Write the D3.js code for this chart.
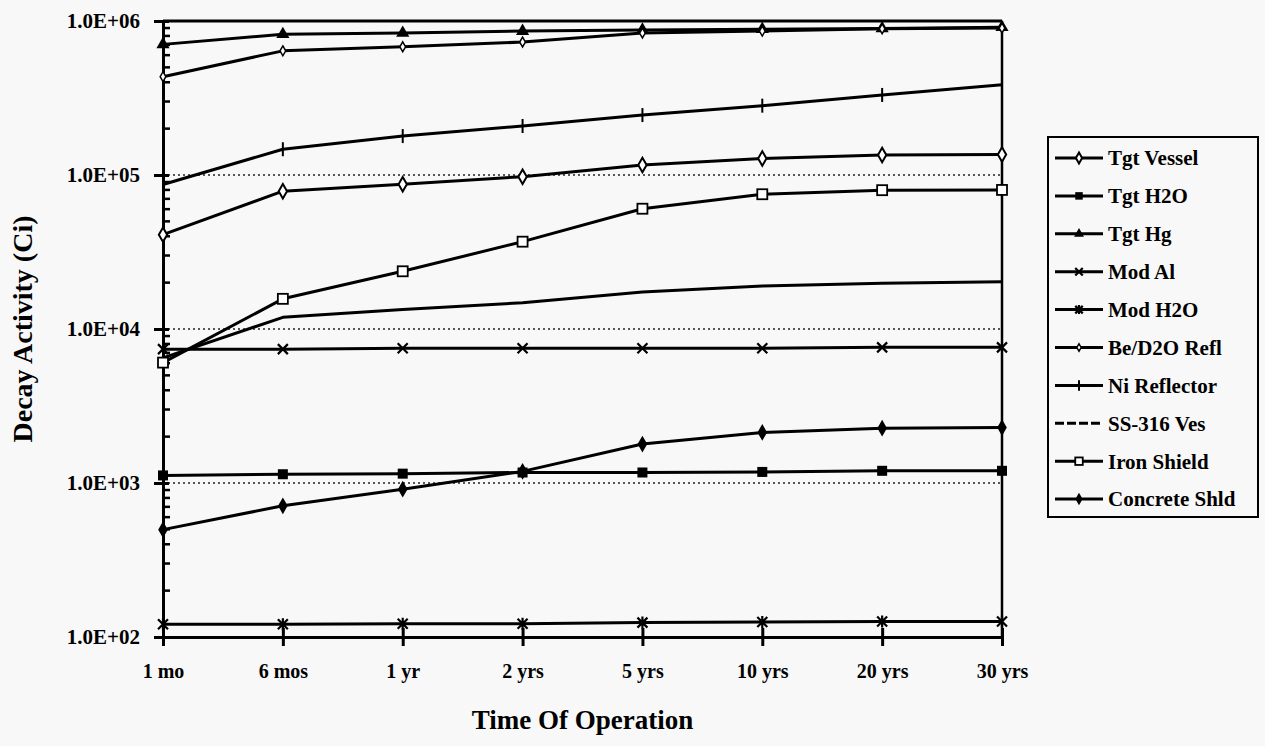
<!DOCTYPE html>
<html>
<head>
<meta charset="utf-8">
<script src="https://cdn.jsdelivr.net/npm/d3@7"></script>
<style>
  body { margin: 0; background: #f8f8f8; }
  svg text { font-family: "Liberation Serif", "Times New Roman", serif; font-weight: bold; }
</style>
</head>
<body>
<svg width="1265" height="746"></svg>
<script>
// categories on the x axis
const times = ["1 mo", "6 mos", "1 yr", "2 yrs", "5 yrs", "10 yrs", "20 yrs", "30 yrs"];

// decay activity (Ci)
const tgtVessel  = [41000, 78500, 87000, 97500, 116000, 128000, 135000, 136000];
const tgtH2O     = [1120, 1140, 1150, 1170, 1170, 1180, 1200, 1200];
const tgtHg      = [705000, 820000, 835000, 860000, 875000, 885000, 895000, 910000];
const modAl      = [7400, 7400, 7500, 7500, 7500, 7500, 7600, 7600];
const modH2O     = [121, 121, 122, 122, 124, 125, 126, 126];
const beD2O      = [435000, 640000, 680000, 730000, 835000, 860000, 890000, 900000];
const niRefl     = [86700, 147000, 179000, 208000, 245000, 282000, 331000, 386000];
const ss316      = [6500, 11900, 13400, 14800, 17400, 19000, 19800, 20300];
const ironShield = [6050, 15700, 23700, 36900, 60400, 75000, 79700, 80000];
const concrete   = [498, 711, 912, 1190, 1790, 2130, 2270, 2290];

const yTicks = [1e2, 1e3, 1e4, 1e5, 1e6];

const series = [
  { name: "Tgt Vessel",    values: tgtVessel,  marker: "diamondOpen" },
  { name: "Tgt H2O",       values: tgtH2O,     marker: "square" },
  { name: "Tgt Hg",        values: tgtHg,      marker: "triangle" },
  { name: "Mod Al",        values: modAl,      marker: "cross" },
  { name: "Mod H2O",       values: modH2O,     marker: "star" },
  { name: "Be/D2O Refl",   values: beD2O,      marker: "smallDiamond" },
  { name: "Ni Reflector",  values: niRefl,     marker: "plus" },
  { name: "SS-316 Ves",    values: ss316,      marker: "none" },
  { name: "Iron Shield",   values: ironShield, marker: "squareOpen" },
  { name: "Concrete Shld", values: concrete,   marker: "diamond" }
];

/*----------- dimensions -----------*/
const plot = { left: 163, right: 1002, top: 21, bottom: 637 };

const x = d3.scalePoint().domain(times).range([plot.left, plot.right]);
const y = d3.scaleLog().domain([1e2, 1e6]).range([plot.bottom, plot.top]);

const svg = d3.select("svg");

// dotted major gridlines (not on the frame)
svg.append("g")
  .selectAll("line")
  .data(yTicks.filter((t) => t > 1e2 && t < 1e6))
  .join("line")
  .attr("x1", plot.left).attr("x2", plot.right)
  .attr("y1", (d) => y(d)).attr("y2", (d) => y(d))
  .attr("stroke", "#222").attr("stroke-width", 1.3)
  .attr("stroke-dasharray", "2,3");

// frame: top and right
svg.append("line")
  .attr("x1", plot.left).attr("x2", plot.right)
  .attr("y1", y(1e6)).attr("y2", y(1e6))
  .attr("stroke", "#000").attr("stroke-width", 3);
svg.append("line")
  .attr("x1", plot.right).attr("x2", plot.right)
  .attr("y1", y(1e6)).attr("y2", y(1e2))
  .attr("stroke", "#000").attr("stroke-width", 2.5);

// y axis: log scale with minor ticks inside
const yAxis = d3.axisLeft(y)
  .tickValues(yTicks)
  .tickFormat((d) => "1.0E+0" + Math.round(Math.log10(d)))
  .tickSizeInner(9).tickSizeOuter(0).tickPadding(14);
const gy = svg.append("g")
  .attr("transform", `translate(${plot.left},0)`)
  .call(yAxis)
  .attr("font-family", null).attr("font-size", null);
gy.select(".domain").attr("stroke-width", 3);
gy.selectAll(".tick line").attr("x2", -9).attr("x1", 6).attr("stroke-width", 3);
gy.selectAll(".tick text").attr("font-size", 21).attr("fill", "#000");

const minor = [];
for (let e = 2; e < 6; e++) for (let m = 2; m <= 9; m++) minor.push(m * Math.pow(10, e));
svg.append("g")
  .selectAll("line")
  .data(minor)
  .join("line")
  .attr("x1", plot.left).attr("x2", plot.left + 7)
  .attr("y1", (d) => y(d)).attr("y2", (d) => y(d))
  .attr("stroke", "#000").attr("stroke-width", 2.5);

// x axis with crossing ticks
const xAxis = d3.axisBottom(x).tickSizeInner(9).tickSizeOuter(0).tickPadding(18);
const gx = svg.append("g")
  .attr("transform", `translate(0,${plot.bottom})`)
  .call(xAxis)
  .attr("font-family", null).attr("font-size", null);
gx.select(".domain").attr("stroke-width", 3);
gx.selectAll(".tick line").attr("y1", -9).attr("y2", 9).attr("stroke-width", 3);
gx.selectAll(".tick text").attr("font-size", 20).attr("fill", "#000");

// axis titles
svg.append("text")
  .attr("x", (plot.left + plot.right) / 2).attr("y", 729)
  .attr("text-anchor", "middle").attr("font-size", 27)
  .text("Time Of Operation");
svg.append("text")
  .attr("transform", `translate(32,${(plot.top + plot.bottom) / 2}) rotate(-90)`)
  .attr("text-anchor", "middle").attr("font-size", 28)
  .text("Decay Activity (Ci)");

/*----------- markers -----------*/
function drawMarker(g, type, scale) {
  const s = scale || 1;
  if (type === "diamondOpen") {
    g.append("path").attr("d", d3.symbol(d3.symbolDiamond, 60 * s * s)).attr("fill", "#fff").attr("stroke", "#000").attr("stroke-width", 2);
  } else if (type === "diamond") {
    g.append("path").attr("d", d3.symbol(d3.symbolDiamond, 80 * s * s)).attr("fill", "#000");
  } else if (type === "square") {
    g.append("rect").attr("x", -5 * s).attr("y", -5 * s).attr("width", 10 * s).attr("height", 10 * s).attr("fill", "#000");
  } else if (type === "squareOpen") {
    g.append("rect").attr("x", -5 * s).attr("y", -5 * s).attr("width", 10 * s).attr("height", 10 * s).attr("fill", "#fff").attr("stroke", "#000").attr("stroke-width", 1.8);
  } else if (type === "triangle") {
    g.append("path").attr("d", d3.symbol(d3.symbolTriangle, 75 * s * s)).attr("fill", "#000");
  } else if (type === "smallDiamond") {
    g.append("path").attr("d", d3.symbol(d3.symbolDiamond, 28 * s * s)).attr("fill", "#fff").attr("stroke", "#000").attr("stroke-width", 1.5);
  } else if (type === "cross") {
    g.append("path").attr("d", `M${-5 * s},${-5 * s}L${5 * s},${5 * s}M${-5 * s},${5 * s}L${5 * s},${-5 * s}`).attr("stroke", "#000").attr("stroke-width", 2.2);
  } else if (type === "star") {
    g.append("path").attr("d", `M${-5 * s},${-5 * s}L${5 * s},${5 * s}M${-5 * s},${5 * s}L${5 * s},${-5 * s}M0,${-6 * s}L0,${6 * s}`).attr("stroke", "#000").attr("stroke-width", 2.2);
  } else if (type === "plus") {
    g.append("path").attr("d", `M0,${-7 * s}L0,${7 * s}`).attr("stroke", "#000").attr("stroke-width", 2);
  }
}

const line = d3.line()
  .x((d, i) => x(times[i]))
  .y((d) => y(d));

const gSeries = svg.append("g");
series.forEach((s) => {
  gSeries.append("path")
    .datum(s.values)
    .attr("fill", "none")
    .attr("stroke", "#000")
    .attr("stroke-width", 3)
    .attr("stroke-linejoin", "round")
    .attr("d", line);
});
series.forEach((s) => {
  gSeries.selectAll(null)
    .data(s.values)
    .join("g")
    .attr("transform", (d, i) => `translate(${x(times[i])},${y(d)})`)
    .each(function () { drawMarker(d3.select(this), s.marker, 1); });
});

/*----------- legend -----------*/
const legend = { x: 1048, y: 137, w: 210, h: 380, first: 158, step: 37.9 };
svg.append("rect")
  .attr("x", legend.x).attr("y", legend.y)
  .attr("width", legend.w).attr("height", legend.h)
  .attr("fill", "#f8f8f8").attr("stroke", "#000").attr("stroke-width", 2);

const li = svg.append("g")
  .selectAll("g")
  .data(series)
  .join("g")
  .attr("transform", (d, i) => `translate(${legend.x + 7},${legend.first + i * legend.step})`);
li.append("line")
  .attr("x1", 0).attr("x2", 48)
  .attr("stroke", "#000").attr("stroke-width", 3)
  .attr("stroke-dasharray", (d) => d.marker === "none" ? "9,3" : null);
li.each(function (d) {
  const g = d3.select(this).append("g").attr("transform", "translate(24,0)");
  drawMarker(g, d.marker, 0.75);
});
li.append("text")
  .attr("x", 53).attr("dy", "0.35em")
  .attr("font-size", 21)
  .text((d) => d.name);
</script>
</body>
</html>
